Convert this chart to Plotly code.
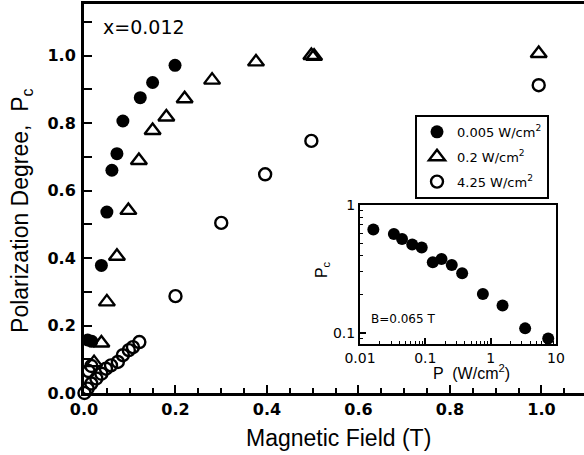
import plotly.graph_objects as go

# ---- main panel data: polarization degree vs magnetic field ----
B_low = [0.008, 0.017, 0.038, 0.050, 0.061, 0.072, 0.085, 0.123, 0.150, 0.199]
P_low = [0.157, 0.153, 0.378, 0.536, 0.660, 0.709, 0.806, 0.875, 0.920, 0.971]

B_mid = [0.022, 0.038, 0.050, 0.072, 0.097, 0.120, 0.150, 0.180, 0.220, 0.280, 0.376, 0.497, 0.503, 0.994]
P_mid = [0.090, 0.148, 0.270, 0.405, 0.541, 0.689, 0.778, 0.818, 0.872, 0.927, 0.981, 1.000, 0.998, 1.006]

B_high = [0.001, 0.008, 0.010, 0.016, 0.016, 0.027, 0.038, 0.048, 0.059, 0.074, 0.085, 0.098, 0.107, 0.121,
          0.200, 0.300, 0.396, 0.497, 0.994]
P_high = [0.000, 0.013, 0.065, 0.028, 0.080, 0.043, 0.057, 0.072, 0.082, 0.092, 0.112, 0.127, 0.136, 0.151,
          0.287, 0.504, 0.648, 0.747, 0.912]

names = ["0.005 W/cm<sup>2</sup>", "0.2 W/cm<sup>2</sup>", "4.25 W/cm<sup>2</sup>"]

# ---- inset data: Pc vs excitation power at B = 0.065 T ----
inset_P = [0.016, 0.033, 0.044, 0.063, 0.088, 0.13, 0.177, 0.254, 0.366, 0.76, 1.52, 3.37, 7.6]
inset_Pc = [0.645, 0.593, 0.542, 0.492, 0.466, 0.356, 0.378, 0.339, 0.292, 0.201, 0.163, 0.108, 0.090]

x_ticks = [0.0, 0.2, 0.4, 0.6, 0.8, 1.0]
y_ticks = [0.0, 0.2, 0.4, 0.6, 0.8, 1.0]
inset_x_ticks = [0.01, 0.1, 1, 10]
inset_x_text = ["0.01", "0.1", "1", "10"]
inset_y_ticks = [0.1, 1]
inset_y_text = ["0.1", "1"]

NUM_FONT = "DejaVu Sans"
TXT_FONT = "Liberation Sans, Arial"

fig = go.Figure()
fig.add_trace(go.Scatter(x=B_low, y=P_low, mode="markers", name=names[0], legendgroup="a",
                         marker=dict(symbol="circle", size=13, color="black"),
                         cliponaxis=False))
fig.add_trace(go.Scatter(x=B_mid, y=P_mid, mode="markers", name=names[1], legendgroup="b",
                         marker=dict(symbol="triangle-up-open", size=14, color="black",
                                     line=dict(width=2.4, color="black")),
                         cliponaxis=False))
fig.add_trace(go.Scatter(x=B_high, y=P_high, mode="markers", name=names[2], legendgroup="c",
                         marker=dict(symbol="circle-open", size=12, color="black",
                                     line=dict(width=2.4, color="black")),
                         cliponaxis=False))
fig.add_trace(go.Scatter(x=inset_P, y=inset_Pc, mode="markers", showlegend=False,
                         xaxis="x2", yaxis="y2",
                         marker=dict(symbol="circle", size=12, color="black"),
                         cliponaxis=False))

fig.update_layout(
    width=584, height=455,
    margin=dict(l=84, r=0, t=4, b=62, pad=0, autoexpand=False),
    paper_bgcolor="white", plot_bgcolor="white",
    font=dict(family=TXT_FONT, color="black"),
    xaxis=dict(range=[0, 1.093], domain=[0, 1], showline=True, linewidth=3, linecolor="black",
               mirror=True, ticks="inside", ticklen=8, tickwidth=2, tickcolor="black",
               tickvals=x_ticks, ticktext=[f"{v:.1f}" for v in x_ticks],
               tickfont=dict(family=NUM_FONT, size=16, color="black", weight="bold"),
               minor=dict(dtick=0.05, tick0=0, ticks="inside", ticklen=5, tickwidth=2, tickcolor="black"),
               showgrid=False, zeroline=False),
    yaxis=dict(range=[0, 1.1526], domain=[0, 1], showline=True, linewidth=3, linecolor="black",
               mirror=False, ticks="inside", ticklen=8, tickwidth=2, tickcolor="black",
               tickvals=y_ticks, ticktext=[f"{v:.1f}" for v in y_ticks],
               tickfont=dict(family=NUM_FONT, size=16, color="black", weight="bold"),
               ticklabelstandoff=2,
               minor=dict(dtick=0.1, tick0=0, ticks="inside", ticklen=8, tickwidth=2, tickcolor="black"),
               showgrid=False, zeroline=False),
    xaxis2=dict(type="log", range=[-2, 1], domain=[0.552, 0.944], anchor="y2",
                showline=True, linewidth=2, linecolor="black", mirror=True,
                ticks="inside", ticklen=6, tickwidth=1.5, tickcolor="black",
                tickvals=inset_x_ticks, ticktext=inset_x_text,
                tickfont=dict(family=NUM_FONT, size=14, color="black"),
                minor=dict(dtick="D1", ticks="inside", ticklen=3, tickwidth=1, tickcolor="black"),
                showgrid=False, zeroline=False),
    yaxis2=dict(type="log", range=[-1.089, 0], domain=[0.126, 0.483], anchor="x2",
                showline=True, linewidth=2, linecolor="black", mirror=True,
                ticks="inside", ticklen=6, tickwidth=1.5, tickcolor="black",
                tickvals=inset_y_ticks, ticktext=inset_y_text,
                tickfont=dict(family=NUM_FONT, size=14, color="black"),
                minor=dict(dtick="D1", ticks="inside", ticklen=3, tickwidth=1, tickcolor="black"),
                showgrid=False, zeroline=False),
    legend=dict(x=0.662, y=0.715, xanchor="left", yanchor="top",
                bordercolor="black", borderwidth=2, bgcolor="white",
                font=dict(family=NUM_FONT, size=13, color="black"),
                traceorder="grouped", tracegroupgap=5),
    showlegend=True,
)

fig.add_annotation(text="x=0.012", xref="paper", yref="paper", x=0.034, y=0.941,
                   xanchor="left", yanchor="middle", showarrow=False,
                   font=dict(family=NUM_FONT, size=19, color="black"))
fig.add_annotation(text="Magnetic Field (T)", xref="paper", yref="paper", x=0.508, y=-0.116,
                   xanchor="center", yanchor="middle", showarrow=False,
                   font=dict(family=TXT_FONT, size=23, color="black"))
fig.add_annotation(text="Polarization Degree,  P<sub>c</sub>", xref="paper", yref="paper",
                   x=-0.124, y=0.468, xanchor="center", yanchor="middle", textangle=-90,
                   showarrow=False, font=dict(family=TXT_FONT, size=23, color="black"))
fig.add_annotation(text="B=0.065 T", xref="paper", yref="paper", x=0.57, y=0.190,
                   xanchor="left", yanchor="middle", showarrow=False,
                   font=dict(family=NUM_FONT, size=12, color="black"))
fig.add_annotation(text="P  (W/cm<sup>2</sup>)", xref="paper", yref="paper", x=0.774, y=0.054,
                   xanchor="center", yanchor="middle", showarrow=False,
                   font=dict(family=TXT_FONT, size=16, color="black"))
fig.add_annotation(text="P<sub>c</sub>", xref="paper", yref="paper", x=0.476, y=0.316,
                   xanchor="center", yanchor="middle", textangle=-90, showarrow=False,
                   font=dict(family=TXT_FONT, size=16, color="black"))

fig.write_html("out.html")
